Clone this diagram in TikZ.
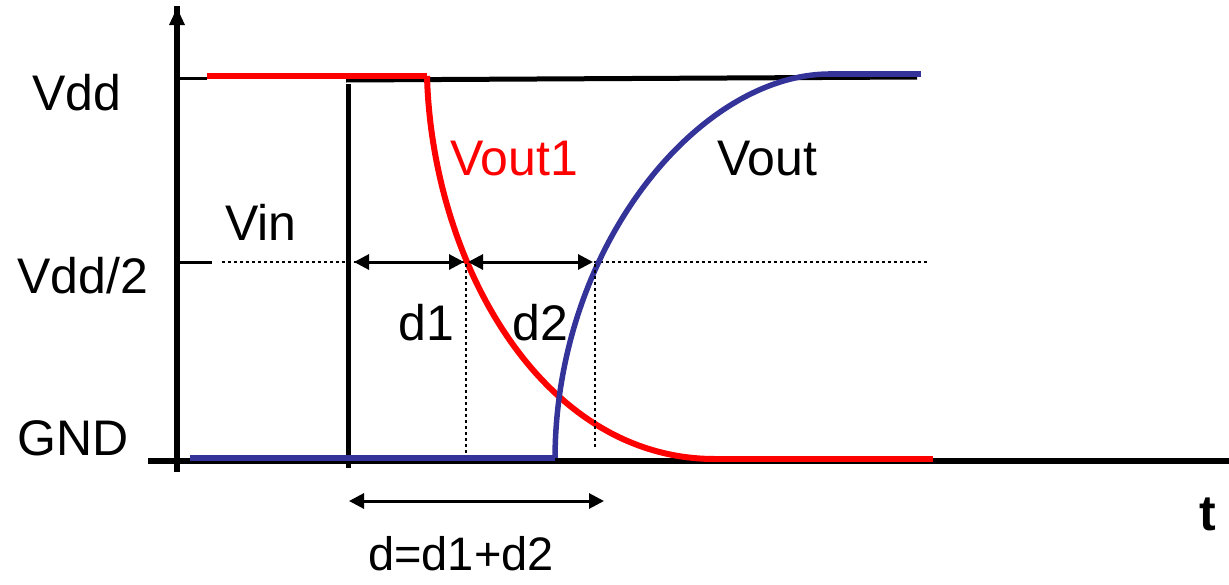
\documentclass[tikz,border=0pt]{standalone}
\usepackage{fontspec}
\setmainfont{Liberation Sans}
\usetikzlibrary{arrows.meta}
\definecolor{vblue}{HTML}{333399}
\definecolor{vred}{HTML}{FF0000}
\begin{document}
\begin{tikzpicture}[x=1pt,y=-1pt,
  lbl/.style={inner sep=0pt,anchor=base west,font=\fontsize{50}{60}\selectfont},
  axis/.style={line width=6pt},
  tick/.style={line width=3pt},
  redline/.style={vred,line width=6pt},
  blueline/.style={vblue,line width=5.5pt},
  vinline/.style={black,line width=5pt},
  dotline/.style={line width=2.5pt,dash pattern=on 3pt off 3pt},
  dim/.style={line width=3pt,{Triangle[length=15pt,width=15pt]}-{Triangle[length=15pt,width=15pt]}}
]
\useasboundingbox (0,0) rectangle (1229,584);
% coordinates
\coordinate (yb) at (177,472);
\coordinate (yt) at (177,6);
\coordinate (xl) at (148,461);
\coordinate (xr) at (1229,461);
\coordinate (vddT) at (207,78);
\coordinate (vddA) at (177,78);
\coordinate (halfA) at (177,262);
\coordinate (halfT) at (212,262);
\coordinate (dotL) at (222,262);
\coordinate (dotR) at (928,262);
\coordinate (vinB) at (348,468);
\coordinate (vinT) at (348,84);
\coordinate (vinHL) at (346,80);
\coordinate (vinHR) at (917,77);
\coordinate (d1L) at (354,262);
\coordinate (d1R) at (464,262);
\coordinate (d2L) at (468,262);
\coordinate (d2R) at (593,262);
\coordinate (v1T) at (466,264);
\coordinate (v1B) at (466,456);
\coordinate (v2T) at (595,264);
\coordinate (v2B) at (595,447);
\coordinate (dL) at (349,501);
\coordinate (dR) at (604,501);
\coordinate (r0) at (207,76);
\coordinate (r1) at (427,76);
\coordinate (r2) at (715,459);
\coordinate (r3) at (933,459);
\coordinate (b0) at (190,458);
\coordinate (b1) at (555,458);
\coordinate (b2) at (830,74);
\coordinate (b3) at (921,74);
% axes
\draw[axis] (yb) -- (yt);
\fill (yt) ++(0,2) -- ++(-8,17) -- ++(16,0) -- cycle;
\draw[axis] (xl) -- (xr);
\draw[tick] (vddA) -- (vddT);
\draw[tick] (halfA) -- (halfT);
\draw[dotline] (dotL) -- (dotR);
% Vin
\draw[vinline] (vinB) -- (vinT);
\draw[vinline] (vinHL) -- (vinHR);
% Vout1 (red)
\draw[redline] (r0) -- (r1);
\draw[redline] (r1) .. controls (432,260) and (540,459) .. (r2);
\draw[redline] (r2) -- (r3);
% Vout (blue)
\draw[blueline] (b0) -- (b1);
\draw[blueline] (b1) .. controls (556,245) and (700,74) .. (b2);
\draw[blueline] (828,74) -- (b3);
% dotted verticals
\draw[dotline] (v1T) -- (v1B);
\draw[dotline] (v2T) -- (v2B);
% dimension arrows
\draw[dim] (d1L) -- (d1R);
\draw[dim] (d2L) -- (d2R);
\draw[dim] (dL) -- (dR);
% labels
\node[lbl] (lvdd) at (32,110) {Vdd};
\node[lbl] (lhalf) at (17,293) {Vdd/2};
\node[lbl] (lgnd) at (17,455) {GND};
\node[lbl] (lvin) at (225,240) {Vin};
\node[lbl,text=vred] (lvout1) at (450,175) {Vout1};
\node[lbl] (lvout) at (717,175) {Vout};
\node[lbl] (ld1) at (398,340) {d1};
\node[lbl] (ld2) at (512,340) {d2};
\node[lbl,font=\fontsize{47}{56}\selectfont] (ld) at (368,570) {d=d1+d2};
\node[lbl,font=\fontsize{50}{60}\selectfont\bfseries] (lt) at (1199,530) {t};
\end{tikzpicture}
\end{document}
